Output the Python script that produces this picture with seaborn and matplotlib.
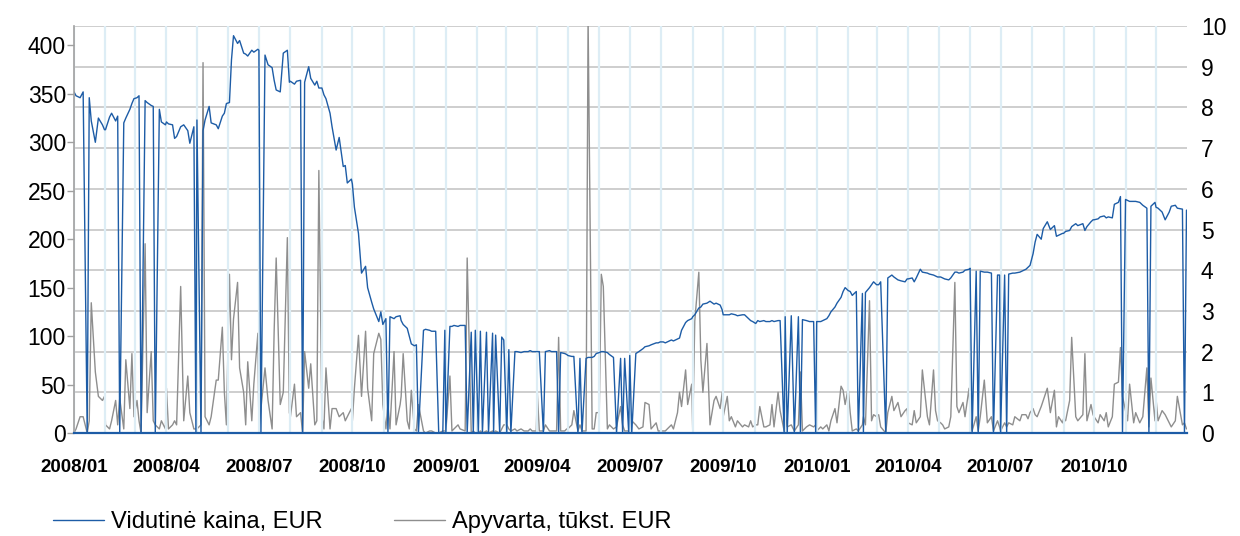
import numpy as np
import pandas as pd
import matplotlib
matplotlib.use("Agg")
import matplotlib.pyplot as plt
import matplotlib.dates as mdates
import seaborn as sns

# average price, EUR - one inner list per month (Jan..Dec)
price_2008 = [
    [352, 348, 346, 352, 0, 346, 322, 300, 325, 318, 313],
    [313, 326, 330, 322, 327, 0, 320, 325, 334, 340, 345],
    [346, 348, 0, 343, 341, 338, 337, 0, 334, 321, 318],
    [321, 319, 318, 304, 306, 316, 318, 312, 299, 316, 0],
    [323, 0, 312, 323, 337, 320, 318, 314, 327, 330, 340],
    [341, 385, 410, 402, 405, 392, 391, 389, 395, 393, 396],
    [395, 0, 390, 380, 377, 364, 354, 352, 392, 395, 362],
    [363, 360, 363, 364, 0, 362, 378, 366, 359, 363, 356],
    [356, 349, 345, 330, 316, 292, 305, 275, 276, 258, 262],
    [257, 233, 206, 165, 172, 150, 135, 128, 115, 125, 112],
    [118, 0, 120, 118, 120, 121, 116, 112, 108, 100, 92],
    [90, 91, 0, 106, 107, 106, 105, 105, 0, 0, 106],
]
price_2009 = [
    [0, 110, 110, 111, 110, 111, 111, 0, 104, 0, 106],
    [0, 105, 0, 104, 0, 103, 0, 101, 0, 99, 96],
    [0, 86, 0, 84, 84, 83, 84, 84, 85, 84, 84],
    [84, 84, 0, 84, 85, 84, 84, 0, 83, 82, 81],
    [80, 79, 79, 0, 77, 0, 77, 78, 78, 79, 82],
    [83, 84, 84, 83, 81, 78, 0, 77, 0, 77, 0],
    [80, 0, 82, 84, 87, 89, 90, 91, 93, 93, 94],
    [94, 93, 94, 96, 95, 97, 98, 106, 114, 116, 118],
    [120, 122, 129, 130, 133, 134, 136, 133, 134, 132, 127],
    [122, 122, 122, 123, 122, 121, 122, 122, 118, 116, 115],
    [113, 116, 115, 116, 115, 115, 116, 115, 116, 116, 0],
    [120, 0, 121, 0, 120, 0, 117, 116, 115, 115, 0],
]
price_2010 = [
    [115, 115, 116, 118, 121, 125, 130, 134, 140, 146, 150],
    [147, 146, 142, 146, 0, 144, 0, 145, 150, 153, 156],
    [153, 153, 156, 0, 160, 163, 161, 158, 157, 156, 159],
    [159, 160, 156, 160, 169, 166, 165, 164, 163, 162, 161],
    [161, 160, 159, 158, 160, 166, 166, 165, 166, 168, 169],
    [170, 0, 167, 0, 167, 166, 166, 165, 0, 163, 163],
    [0, 163, 0, 164, 165, 165, 166, 167, 169, 171, 173],
    [185, 197, 205, 200, 211, 218, 210, 214, 203, 204, 206],
    [206, 208, 209, 213, 216, 214, 216, 209, 213, 218, 220],
    [220, 221, 223, 224, 222, 223, 222, 236, 238, 244, 0],
    [241, 240, 239, 239, 239, 238, 235, 232, 0, 234, 238],
    [233, 232, 228, 220, 228, 234, 235, 232, 231, 0, 230],
]

# turnover, thousand EUR
turnover_2008 = [
    [0, 0.1, 0.4, 0.4, 0, 0.3, 3.2, 1.5, 0.9, 0.8, 0.9],
    [0.2, 0.1, 0.3, 0.8, 0.2, 0.85, 0.1, 1.8, 0.6, 1.95, 0.4],
    [0.8, 0.3, 0, 4.65, 0.5, 2.0, 0.3, 0.2, 0.1, 0.3, 0.1],
    [1.1, 0.1, 0.2, 0.3, 0.2, 3.6, 0.3, 1.4, 0.5, 0.1, 0.1],
    [0.1, 0.2, 9.1, 0.4, 0.2, 0.4, 1.3, 1.3, 2.6, 1.0, 0.2],
    [3.9, 1.8, 2.8, 3.7, 1.6, 1.0, 0.2, 1.75, 0.3, 1.2, 2.45],
    [0.1, 0.6, 1.6, 0.8, 0.1, 2.5, 4.3, 0.7, 1.0, 4.8, 0.5],
    [0.4, 1.2, 0.4, 0.5, 0, 2.0, 1.1, 1.7, 0.2, 0.3, 6.45],
    [0.4, 0.1, 1.6, 0.1, 0.6, 0.6, 0.4, 0.5, 0.3, 0.4, 0.6],
    [0.3, 1.1, 2.4, 0.9, 2.5, 1.1, 0.3, 1.95, 2.45, 2.3, 0.7],
    [0.1, 0.7, 0.1, 2.0, 0.2, 0.7, 0.9, 1.95, 0.3, 0.1, 1.05],
    [0.1, 0.05, 0.7, 0.05, 0, 0.05, 0.05, 0, 0, 0.05, 0.05],
]
turnover_2009 = [
    [0.05, 1.4, 0.05, 0.1, 0.2, 0.1, 0.05, 4.3, 0, 0.05, 0],
    [0, 0.05, 0, 0.05, 0, 0.05, 0, 0.05, 0, 0.1, 0.2],
    [0.2, 0.1, 0.05, 0.1, 0.05, 0.1, 0.05, 0.05, 0.1, 0.05, 0.05],
    [1.0, 0.05, 0.05, 0.2, 0.05, 0.05, 0.05, 2.35, 0.05, 0.05, 0.1],
    [0.1, 0.2, 0.55, 0.05, 0.2, 0.05, 0.05, 10.2, 0.1, 0.1, 0.5],
    [0.5, 3.9, 3.6, 0.1, 0.2, 0.1, 0.15, 0.65, 0.2, 0.05, 0.05],
    [0.1, 0.3, 0.2, 0.1, 0.15, 0.75, 0.7, 0.1, 0.25, 0.05, 0.05],
    [0.05, 0.05, 0.1, 0.2, 0.1, 0.5, 1.0, 0.65, 1.55, 0.7, 1.2],
    [0.05, 2.75, 3.95, 1.8, 1.0, 2.2, 0.2, 0.8, 0.9, 0.6, 1.0],
    [0.4, 0.9, 0.3, 0.4, 0.15, 0.3, 0.15, 0.2, 0.15, 0.3, 0.15],
    [0.2, 0.2, 0.65, 0.15, 0.15, 0.2, 0.7, 0.15, 1.0, 0.55, 0.05],
    [0.5, 0.15, 0.2, 0.05, 0.2, 1.5, 0.05, 0.15, 0.2, 0.15, 0.2],
]
turnover_2010 = [
    [0.05, 0.15, 0.1, 0.2, 0.05, 0.3, 0.6, 0.25, 1.15, 1.05, 0.7],
    [1.1, 0.5, 0.05, 0.1, 0.05, 0.2, 0.4, 0.2, 3.25, 0.3, 0.45],
    [0.4, 0.45, 0.15, 0.0, 0.5, 0.9, 0.55, 0.75, 0.4, 0.55, 0.6],
    [0.25, 0.2, 0.55, 0.25, 0.4, 1.55, 0.4, 0.2, 1.55, 0.55, 0.3],
    [0.25, 0.2, 0.1, 0.15, 0.4, 3.7, 0.65, 0.5, 0.75, 0.4, 1.1],
    [0.45, 0.05, 0.4, 0.05, 0.4, 1.3, 0.25, 0.4, 0.05, 0.3, 0.15],
    [0.05, 0.25, 0.15, 0.25, 0.2, 0.4, 0.3, 0.45, 0.45, 0.35, 0.5],
    [0.6, 0.45, 0.4, 0.65, 0.8, 1.1, 0.5, 1.05, 0.15, 0.4, 0.25],
    [0.35, 0.3, 0.8, 2.35, 0.4, 0.3, 0.45, 1.95, 0.3, 0.7, 0.45],
    [0.4, 0.25, 0.45, 0.3, 0.5, 0.15, 0.4, 1.2, 1.25, 2.1, 0.9],
    [0.55, 0.3, 1.2, 0.25, 0.5, 0.25, 0.4, 1.6, 0.15, 1.35, 0.3],
    [0.85, 0.3, 0.55, 0.45, 0.25, 0.15, 0.3, 0.9, 0.2, 0.25, 0.1],
]

labels = ["Vidutinė kaina, EUR", "Apyvarta, tūkst. EUR"]
BLUE = "#1D5CA6"
GREY = "#8E8E8E"


def to_frame(by_year, name):
    # spread each month's values over that month's business days
    rows = []
    for year, months in by_year.items():
        for m, vals in enumerate(months, start=1):
            start = pd.Timestamp(year=year, month=m, day=1)
            days = pd.bdate_range(start, start + pd.offsets.MonthEnd(0))
            idx = np.linspace(0, len(days) - 1, len(vals)).round().astype(int)
            rows += list(zip(days[idx], vals))
    return pd.DataFrame(rows, columns=["date", name])


price = to_frame({2008: price_2008, 2009: price_2009, 2010: price_2010}, "price")
turnover = to_frame({2008: turnover_2008, 2009: turnover_2009, 2010: turnover_2010}, "turnover")

sns.set_style("white")
plt.rcParams["font.family"] = ["Liberation Sans", "DejaVu Sans"]
plt.rcParams["text.color"] = "black"
plt.rcParams["xtick.color"] = "black"
plt.rcParams["ytick.color"] = "black"

fig = plt.figure(figsize=(12.4, 5.36), dpi=100)
ax = fig.add_axes([74 / 1240, 1 - 433 / 536, 1113 / 1240, 407 / 536])
ax2 = ax.twinx()
ax.set_zorder(ax2.get_zorder() + 1)
ax.patch.set_visible(False)

sns.lineplot(data=turnover, x="date", y="turnover", ax=ax2, color=GREY,
             linewidth=1.0, estimator=None, label=labels[1], legend=False)
sns.lineplot(data=price, x="date", y="price", ax=ax, color=BLUE,
             linewidth=1.0, estimator=None, label=labels[0], legend=False)

ax.set_xlim(pd.Timestamp("2008-01-01"), pd.Timestamp("2010-12-31 12:00"))
ax.set_ylim(0, 420)
ax.set_yticks(range(0, 401, 50))
ax2.set_ylim(0, 10)
ax2.set_yticks(range(0, 11))

ax.xaxis.set_major_locator(mdates.MonthLocator(bymonth=[1, 4, 7, 10]))
ax.xaxis.set_major_formatter(mdates.DateFormatter("%Y/%m"))
ax.xaxis.set_minor_locator(mdates.MonthLocator())
ax.grid(which="both", axis="x", color="#DDEDF5", linewidth=1.6)
ax.grid(False, axis="y")
ax2.grid(True, axis="y", color="#CACACA", linewidth=1.3)
ax2.grid(False, axis="x")

ax.set_xlabel("")
ax.set_ylabel("")
ax2.set_ylabel("")

ax.tick_params(axis="x", which="both", length=0, pad=19, labelsize=13.5,
               labelcolor="black")
for t in ax.get_xticklabels():
    t.set_fontweight("bold")
ax.tick_params(axis="y", length=5, width=1, color="#A0A0A0", pad=0.8,
               labelsize=16.5, direction="out", left=True, labelcolor="black")
ax2.tick_params(axis="y", length=0, pad=10, labelsize=16.5, labelcolor="black")

for s in ["top", "right"]:
    ax.spines[s].set_visible(False)
for s in ax2.spines.values():
    s.set_visible(False)
ax.spines["left"].set_color("#A0A0A0")
ax.spines["left"].set_linewidth(1.2)
ax.spines["bottom"].set_color(BLUE)
ax.spines["bottom"].set_linewidth(1.6)

handles = ax.get_lines()[-1:] + ax2.get_lines()[-1:]
fig.legend(handles, labels, loc="center left", bbox_to_anchor=(53 / 1240, 14 / 536),
           ncol=2, frameon=False, fontsize=17, handlelength=2.16,
           handletextpad=0.3, columnspacing=3.0, borderpad=0, borderaxespad=0)

fig.savefig("out.png", dpi=100)
